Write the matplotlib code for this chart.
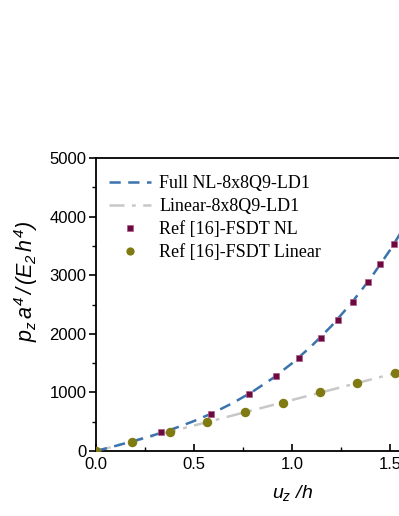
import matplotlib
matplotlib.use("Agg")
import matplotlib.pyplot as plt
from matplotlib.ticker import MultipleLocator

plt.rcParams['mathtext.fontset'] = 'custom'
plt.rcParams['mathtext.it'] = 'Liberation Sans:italic'
plt.rcParams['mathtext.rm'] = 'Liberation Sans:italic'

# Curves
nl_x = [0, 0.1, 0.2, 0.3, 0.4, 0.5, 0.6, 0.7, 0.8, 0.9, 1.0, 1.1, 1.2, 1.3, 1.4, 1.5, 1.6, 1.7]
nl_y = [0, 87, 178, 276, 386, 511, 655, 822, 1015, 1238, 1496, 1792, 2129, 2512, 2943, 3428, 3970, 4573]
lin_x = [0, 0.4, 0.8, 1.2, 1.6, 2.0]
lin_y = [0, 348, 696, 1044, 1392, 1740]

# Reference points
ref_nl_x = [0.332, 0.585, 0.779, 0.920, 1.036, 1.146, 1.233, 1.313, 1.389, 1.451, 1.519]
ref_nl_y = [324, 626, 972, 1285, 1592, 1928, 2230, 2548, 2879, 3196, 3527]
ref_lin_x = [0.0, 0.185, 0.376, 0.568, 0.762, 0.952, 1.143, 1.332, 1.527]
ref_lin_y = [0, 154, 324, 490, 666, 824, 1002, 1166, 1336]

labels = ["Full NL-8x8Q9-LD1", "Linear-8x8Q9-LD1", "Ref [16]-FSDT NL", "Ref [16]-FSDT Linear"]

fig = plt.figure(figsize=(3.99, 5.16), dpi=100)
ax = fig.add_axes([96/399, 65/516, 392/399, 293/516])

ax.plot(nl_x, nl_y, ls=(0, (4.5, 3)), color='#3a73ad', lw=1.8, label=labels[0], zorder=3)
ax.plot(lin_x, lin_y, ls=(0, (6, 3, 1.5, 3)), color='#c8c8c8', lw=1.8, label=labels[1], zorder=2)
ax.plot(ref_nl_x, ref_nl_y, ls='none', marker='s', ms=5, color='#6a0a3f',
        mec='#b05a88', mew=0.5, label=labels[2], zorder=4)
ax.plot(ref_lin_x, ref_lin_y, ls='none', marker='o', ms=5.8, color='#807a12',
        mec='#807a12', label=labels[3], zorder=4)

ax.set_xlim(0, 2.0)
ax.set_ylim(0, 5000)
ax.xaxis.set_major_locator(MultipleLocator(0.5))
ax.xaxis.set_minor_locator(MultipleLocator(0.25))
ax.yaxis.set_major_locator(MultipleLocator(1000))
ax.yaxis.set_minor_locator(MultipleLocator(500))
ax.set_xticks([0, 0.5, 1.0, 1.5, 2.0])
ax.set_xticklabels(["0.0", "0.5", "1.0", "1.5", "2.0"])

for lab in ax.get_xticklabels() + ax.get_yticklabels():
    lab.set_fontfamily('Liberation Sans')
    lab.set_fontsize(12)

ax.tick_params(axis='x', which='major', direction='in', length=5, width=1.2, pad=4)
ax.tick_params(axis='x', which='minor', direction='in', length=3, width=1.0)
ax.tick_params(axis='y', which='major', direction='out', length=5, width=1.2, pad=2)
ax.tick_params(axis='y', which='minor', direction='out', length=3, width=1.0)

for s in ax.spines.values():
    s.set_linewidth(1.3)

ax.set_xlabel(r"$u_z\ /h$", fontsize=14, labelpad=8)
ax.set_ylabel(r"$p_z\,a^4\,/\,(E_2\,h^4)$", fontsize=15.5)
ax.yaxis.set_label_coords(-0.143, 0.58)

leg = ax.legend(loc='upper left', bbox_to_anchor=(0.0, 0.985), frameon=False,
                prop={'family': 'Liberation Serif', 'size': 13},
                handlelength=2.35, handletextpad=0.45, labelspacing=0.34,
                markerscale=0.85, borderaxespad=0.3)

fig.savefig("out.png", dpi=100)
